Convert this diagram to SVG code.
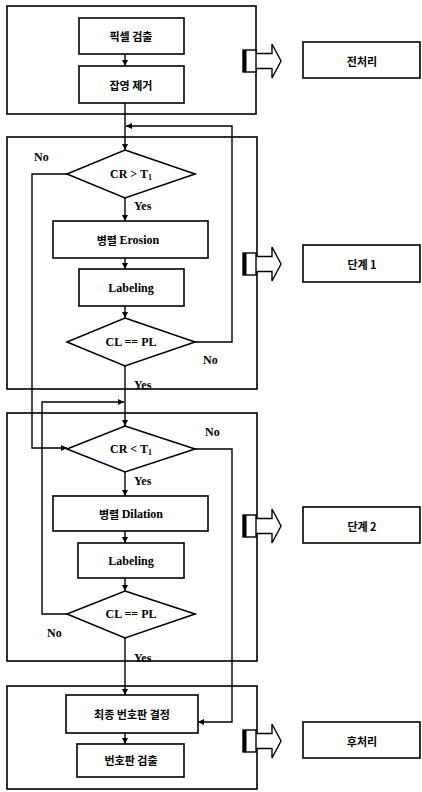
<svg xmlns="http://www.w3.org/2000/svg" width="422" height="792" viewBox="0 0 422 792">
<style>
.frame{fill:none;stroke:#000;stroke-width:1.6}
.box{fill:#fff;stroke:#000;stroke-width:1.6}
.dia{fill:#fff;stroke:#000;stroke-width:1.6}
.ln{fill:none;stroke:#000;stroke-width:1.4}
.t{font-family:"Liberation Serif","Noto Sans CJK KR",serif;font-weight:bold;font-size:12px;text-anchor:middle;dominant-baseline:central;fill:#000}
.k{font-family:"Noto Sans CJK KR","Liberation Sans",sans-serif;font-weight:bold;font-size:11px;text-anchor:middle;dominant-baseline:central;fill:#000}
.lab{font-family:"Liberation Serif",serif;font-weight:bold;font-size:12px;dominant-baseline:central;fill:#000}
</style>
<defs>
<marker id="ah" viewBox="0 0 10 10" refX="10" refY="5" markerWidth="6" markerHeight="6" orient="auto" markerUnits="userSpaceOnUse">
<path d="M0,0 L10,5 L0,10 z" fill="#000"/>
</marker>
<g id="stageArrow">
<path d="M256,-7.5 H272 V-17 L281,0 L272,17 V7.5 H256" fill="#fff" stroke="#000" stroke-width="1.4"/>
<rect x="243" y="-11" width="13" height="22" fill="#fff" stroke="#000" stroke-width="1.4"/>
<rect x="243" y="-11" width="3.5" height="22" fill="#000"/>
</g>
</defs>

<g id="frames">
<rect id="frame-pre" class="frame" x="7" y="6" width="249" height="108"/>
<rect id="frame-s1" class="frame" x="7" y="137" width="250" height="252"/>
<rect id="frame-s2" class="frame" x="7" y="413" width="250" height="248"/>
<rect id="frame-post" class="frame" x="7" y="686" width="250" height="103"/>
</g>

<g id="connectors">
<line class="ln" x1="125" y1="54" x2="125" y2="66" marker-end="url(#ah)"/>
<line class="ln" x1="125" y1="103" x2="125" y2="150" marker-end="url(#ah)"/>
<polyline class="ln" points="195,342 232,342 232,126 126,126" marker-end="url(#ah)"/>
<polyline class="ln" points="67,174 32,174 32,448 67,448" marker-end="url(#ah)"/>
<line class="ln" x1="125" y1="198" x2="125" y2="221" marker-end="url(#ah)"/>
<line class="ln" x1="125" y1="258" x2="125" y2="269" marker-end="url(#ah)"/>
<line class="ln" x1="125" y1="306" x2="125" y2="318" marker-end="url(#ah)"/>
<line class="ln" x1="125" y1="366" x2="125" y2="426" marker-end="url(#ah)"/>
<polyline class="ln" points="67,614 42,614 42,402 124,402" marker-end="url(#ah)"/>
<polyline class="ln" points="195,449 232,449 232,722 198,722" marker-end="url(#ah)"/>
<line class="ln" x1="125" y1="472" x2="125" y2="496" marker-end="url(#ah)"/>
<line class="ln" x1="125" y1="531" x2="125" y2="543" marker-end="url(#ah)"/>
<line class="ln" x1="125" y1="578" x2="125" y2="591" marker-end="url(#ah)"/>
<line class="ln" x1="125" y1="638" x2="125" y2="695" marker-end="url(#ah)"/>
<line class="ln" x1="125" y1="733" x2="125" y2="744" marker-end="url(#ah)"/>
</g>

<g id="edge-pixel">
<rect class="box" x="79" y="18" width="105" height="36"/>
<text class="k" x="131" y="36">픽셀 검출</text>
</g>
<g id="noise-removal">
<rect class="box" x="79" y="66" width="105" height="37"/>
<text class="k" x="131" y="85">잡영 제거</text>
</g>

<g id="cond-cr-gt">
<polygon class="dia" points="125,150 195,174 125,198 67,174"/>
<text class="t" x="131" y="174">CR &gt; T<tspan font-size="8" dy="3">1</tspan></text>
</g>
<g id="erosion">
<rect class="box" x="53" y="221" width="155" height="37"/>
<text class="k" x="128" y="240">병렬 <tspan font-family="Liberation Serif" font-size="12">Erosion</tspan></text>
</g>
<g id="labeling1">
<rect class="box" x="79" y="269" width="105" height="37"/>
<text class="t" x="131" y="288">Labeling</text>
</g>
<g id="cond-cl-pl1">
<polygon class="dia" points="125,318 195,342 125,366 67,342"/>
<text class="t" x="131" y="342">CL == PL</text>
</g>

<g id="cond-cr-lt">
<polygon class="dia" points="125,426 195,449 125,472 67,449"/>
<text class="t" x="131" y="449">CR &lt; T<tspan font-size="8" dy="3">1</tspan></text>
</g>
<g id="dilation">
<rect class="box" x="53" y="496" width="155" height="35"/>
<text class="k" x="131" y="514">병렬 <tspan font-family="Liberation Serif" font-size="12">Dilation</tspan></text>
</g>
<g id="labeling2">
<rect class="box" x="78" y="543" width="106" height="35"/>
<text class="t" x="131" y="561">Labeling</text>
</g>
<g id="cond-cl-pl2">
<polygon class="dia" points="125,591 195,614 125,638 67,614"/>
<text class="t" x="131" y="614">CL == PL</text>
</g>

<g id="final-decision">
<rect class="box" x="66" y="695" width="132" height="38"/>
<text class="k" x="132" y="714">최종 번호판 결정</text>
</g>
<g id="plate-detect">
<rect class="box" x="77" y="744" width="107" height="33"/>
<text class="k" x="131" y="760">번호판 검출</text>
</g>

<g id="labels">
<text class="lab" x="34" y="157">No</text>
<text class="lab" x="134" y="206">Yes</text>
<text class="lab" x="203" y="360">No</text>
<text class="lab" x="134" y="385">Yes</text>
<text class="lab" x="205" y="432">No</text>
<text class="lab" x="134" y="481">Yes</text>
<text class="lab" x="47" y="633">No</text>
<text class="lab" x="134" y="658">Yes</text>
</g>

<g id="stage-arrows">
<use href="#stageArrow" transform="translate(0,61)"/>
<use href="#stageArrow" transform="translate(0,264)"/>
<use href="#stageArrow" transform="translate(0,526)"/>
<use href="#stageArrow" transform="translate(0,741)"/>
</g>

<g id="stage-pre">
<rect class="box" x="303" y="42" width="117" height="36"/>
<text class="k" x="362" y="61">전처리</text>
</g>
<g id="stage-1">
<rect class="box" x="303" y="245" width="117" height="37"/>
<text class="k" x="362" y="264">단계 1</text>
</g>
<g id="stage-2">
<rect class="box" x="303" y="507" width="117" height="36"/>
<text class="k" x="362" y="526">단계 2</text>
</g>
<g id="stage-post">
<rect class="box" x="303" y="722" width="117" height="36"/>
<text class="k" x="362" y="741">후처리</text>
</g>
</svg>
